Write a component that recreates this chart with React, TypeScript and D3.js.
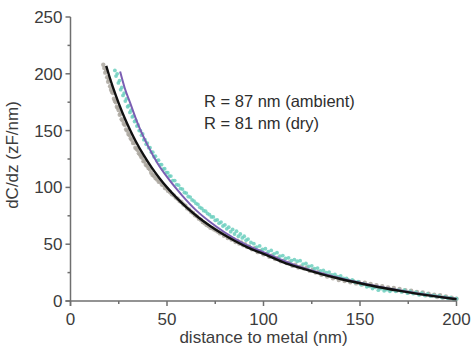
import React from "react";
import * as d3 from "d3";

const W = 475;
const H = 349;

const xTicks = [0, 50, 100, 150, 200];
const xMinor = [25, 75, 125, 175];
const yTicks = [0, 50, 100, 150, 200, 250];
const yMinor = [25, 75, 125, 175, 225];

const xLabel = "distance to metal (nm)";
const yLabel = "dC/dz (zF/nm)";
const notes = ["R = 87 nm (ambient)", "R = 81 nm (dry)"];

// fit curves
const dryFit: [number, number][] = [
  [18.5, 207], [20, 198.5], [22, 188], [25, 174], [28, 161.3], [31, 150.1], [34, 140],
  [38, 128.1], [42, 117.6], [46, 108.3], [50, 100], [55, 90.8], [60, 82.6], [66, 74],
  [72, 66.5], [78, 59.8], [85, 53], [92, 47], [100, 41.5], [110, 34.3], [120, 28.7],
  [130, 23.7], [140, 19.4], [150, 15.6], [160, 12.1], [170, 9.1], [180, 6.3], [190, 3.8],
  [200, 1.5],
];
const ambientFit: [number, number][] = [
  [25.7, 202], [28, 188], [31, 174], [35, 155.5], [40, 137], [45, 121.5], [51, 107],
  [58, 92.6], [65, 80], [72, 70], [80, 60.3], [90, 50.3], [100, 43], [115, 32.5],
  [130, 24.5], [150, 16], [170, 9.4], [185, 5.2], [200, 1.8],
];

// measured data
const dryData: [number, number][] = [
  [17, 208], [17.5, 205], [18, 201], [18.5, 203], [19, 197], [19.5, 193], [20, 195], [20.5, 189],
  [21, 186], [21.5, 184], [22, 183], [22.5, 178], [23, 176], [23.5, 175], [24, 171], [24.5, 170],
  [25, 168], [25.5, 164], [26, 165], [26.5, 160], [27, 159], [27.6, 156], [28.2, 155], [28.8, 151],
  [29.4, 150], [30, 147], [30.6, 146], [31.2, 143], [31.8, 142], [32.4, 139], [33, 139], [33.6, 135],
  [34.2, 134], [34.8, 133], [35.4, 130], [36, 129], [36.6, 127], [37.2, 126], [37.8, 123], [38.4, 123],
  [39, 120], [39.7, 119], [40.4, 117], [41.1, 116], [41.8, 113], [42.5, 111], [43.3, 110], [44.1, 108],
  [44.9, 107], [45.7, 105], [46.5, 105], [47.3, 102.5], [48.1, 102], [48.9, 99.5], [49.7, 99], [50.5, 97],
  [51.5, 96], [52.5, 94], [53.5, 93], [54.5, 91], [55.5, 90], [56.5, 88], [57.5, 87], [58.5, 85],
  [59.5, 84], [60.5, 81.5], [61.5, 80.5], [62.5, 78.5], [63.5, 77.5], [64.5, 75.5], [65.5, 74.5], [66.5, 72.5],
  [67.5, 71.5], [68.5, 69.5], [69.5, 68.5], [70.5, 67], [71.5, 66], [72.5, 64.5], [73.5, 64], [74.5, 63],
  [75.5, 62], [76.5, 61], [77.5, 59.5], [78.5, 60], [79.5, 57.5], [80.5, 58], [81.5, 55.5], [82.5, 56],
  [83.5, 54], [84.5, 54.5], [85.5, 52], [86.5, 53], [87.5, 50.5], [88.5, 51.5], [89.5, 49], [90.5, 50],
  [91.5, 47.5], [92.5, 48], [94, 45.5], [95.5, 46.5], [97, 43], [98.5, 44], [100, 41], [101.5, 41.5],
  [103, 39], [104.5, 40], [106, 37], [107.5, 38], [109, 35], [110.5, 35.5], [112, 33.5], [113.5, 34],
  [115, 31], [116.5, 32], [118, 29.5], [119.5, 30.5], [121, 28.5], [122.5, 29.5], [124, 26.5],
  [125.5, 27.5], [127, 25], [128.5, 25.5], [130, 23], [131.5, 24], [133, 21.5], [134.5, 22.5], [136, 20],
  [137.5, 21], [139, 18.5], [140.5, 19.5], [142, 17.5], [143.5, 18.5], [145, 16.5], [146.5, 17.5],
  [148, 15.5], [149.5, 16.5], [151, 14.5], [152.5, 16], [154, 13.5], [155.5, 15], [157, 12.5], [158.5, 14],
  [160, 11.5], [161.5, 13], [163, 10.5], [164.5, 12], [166, 10], [167.5, 11.5], [169, 9], [170.5, 10.5],
  [172, 8.5], [173.5, 9.5], [175, 7.5], [176.5, 9], [178, 7], [179.5, 8], [181, 6], [182.5, 7.5], [184, 5],
  [185.5, 6.5], [187, 4.5], [188.5, 5.5], [190, 3.5], [191.5, 5], [193, 3], [194.5, 4], [196, 2.5],
  [197.5, 3], [199, 1.5], [200, 2],
];
const ambientData: [number, number][] = [
  [23, 203], [23.6, 198], [24.2, 200], [24.8, 192], [25.4, 194], [26, 186], [26.6, 188], [27.2, 181],
  [27.8, 183], [28.4, 176], [29, 178], [29.6, 171], [30.2, 172], [30.8, 166], [31.4, 168], [32, 162],
  [32.6, 163], [33.2, 158], [33.8, 159], [34.4, 154], [35, 155], [35.6, 150], [36.2, 150], [36.8, 146],
  [37.4, 147], [38, 142], [38.6, 142], [39.2, 138], [39.8, 139], [40.5, 135], [41.2, 135], [41.9, 131],
  [42.6, 131], [43.3, 127], [44, 127.5], [44.8, 123.5], [45.6, 124], [46.4, 120], [47.2, 120], [48, 116],
  [48.8, 116.5], [49.6, 113], [50.4, 113], [51.2, 110], [52, 110], [53, 106], [54, 106], [55, 102.5],
  [56, 102], [57, 99], [58, 98.5], [59, 95.5], [60, 95], [61, 92], [62, 91.5], [63, 89], [64, 88],
  [65, 86], [66, 85], [67, 82.5], [68, 81.5], [69, 79.5], [70, 79], [71, 77], [72, 76], [73, 74],
  [74, 74], [75, 71], [76, 71.5], [77, 68.5], [78, 69.5], [79, 66], [80, 67], [81, 63.5], [82, 65],
  [83, 61], [84, 63], [85, 59], [86, 61.5], [87, 57], [88, 59], [89, 55.5], [90, 57], [91, 53.5],
  [92, 54.5], [93.5, 51.5], [95, 50.5], [96.5, 47.5], [98, 48.5], [99.5, 45.5], [101, 46], [102.5, 43.5],
  [104, 44.5], [105.5, 41.5], [107, 42.5], [108.5, 39.5], [110, 40], [111.5, 37.5], [113, 38], [114.5, 35.5],
  [116, 36.5], [117.5, 35], [119, 35.5], [120.5, 32.5], [122, 33], [123.5, 30.5], [125, 31],
  [126.5, 28.5], [128, 29], [129.5, 26.5], [131, 27], [132.5, 25], [134, 25.5], [135.5, 23], [137, 23.5],
  [138.5, 21.5], [140, 22], [141.5, 20], [143, 20], [144.5, 18], [146, 18.5], [147.5, 16.5], [149, 17],
  [150.5, 14.5], [152, 15], [153.5, 12.5], [155, 13], [156.5, 11], [158, 12], [159.5, 9.5], [161, 11],
  [162.5, 9], [164, 10], [165.5, 8.5], [167, 10], [168.5, 8.5], [170, 9.5], [171.5, 8], [173, 9.5],
  [174.5, 7], [176, 8.5], [177.5, 6.5], [179, 7.5], [180.5, 5.5], [182, 7], [183.5, 5], [185, 6],
  [186.5, 4.5], [188, 5], [189.5, 4], [191, 4.5], [192.5, 3], [194, 3.5], [195.5, 2.5], [197, 3],
  [198.5, 1.5], [200, 2],
];

const FONT = "'Liberation Sans', Arial, sans-serif";
const AXIS = "#6f6f6f";
const TEXT = "#3c3c3c";

export default function App() {
  const x = d3.scaleLinear().domain([0, 200]).range([70.5, 456.5]);
  const y = d3.scaleLinear().domain([0, 250]).range([301, 17]);
  const line = d3
    .line<[number, number]>()
    .x((d) => x(d[0]))
    .y((d) => y(d[1]))
    .curve(d3.curveMonotoneX);

  return (
    <div style={{ position: "absolute", left: 0, top: 0 }}>
      <svg width={W} height={H} style={{ display: "block", background: "#fff" }}>
        {/* data */}
        <g>
          {dryData.map((d, i) => (
            <circle key={"g" + i} cx={x(d[0])} cy={y(d[1])} r={2.2} fill="#aaa69e" opacity={0.85} />
          ))}
        </g>
        <g>
          {ambientData.map((d, i) => (
            <circle key={"c" + i} cx={x(d[0])} cy={y(d[1])} r={1.9} fill="#6ccfbe" opacity={0.85} />
          ))}
        </g>
        <path d={line(ambientFit) || ""} fill="none" stroke="#7b5fb3" strokeWidth={2} />
        <path d={line(dryFit) || ""} fill="none" stroke="#111" strokeWidth={2.4} />

        {/* axes */}
        <g stroke={AXIS} strokeWidth={1.5} fill="none">
          <line x1={x(0)} x2={x(0)} y1={y(250)} y2={y(0) + 5} />
          <line x1={x(0) - 5} x2={x(200)} y1={y(0)} y2={y(0)} />
          {yTicks.map((t) => (
            <line key={"yt" + t} x1={x(0) - 5} x2={x(0)} y1={y(t)} y2={y(t)} />
          ))}
          {yMinor.map((t) => (
            <line key={"ym" + t} x1={x(0) - 3} x2={x(0)} y1={y(t)} y2={y(t)} />
          ))}
          {xTicks.map((t) => (
            <line key={"xt" + t} x1={x(t)} x2={x(t)} y1={y(0)} y2={y(0) + 5} />
          ))}
          {xMinor.map((t) => (
            <line key={"xm" + t} x1={x(t)} x2={x(t)} y1={y(0)} y2={y(0) + 3} />
          ))}
        </g>
        <g fontFamily={FONT} fontSize={17} fill={TEXT}>
          {yTicks.map((t) => (
            <text key={"yl" + t} x={x(0) - 8} y={y(t)} dy="0.35em" textAnchor="end">
              {t}
            </text>
          ))}
          {xTicks.map((t) => (
            <text key={"xl" + t} x={x(t)} y={y(0) + 24} textAnchor="middle">
              {t}
            </text>
          ))}
          <text x={(x(0) + x(200)) / 2} y={343} textAnchor="middle">
            {xLabel}
          </text>
          <text transform={`translate(18, ${155}) rotate(-90)`} textAnchor="middle">
            {yLabel}
          </text>
        </g>
        <g fontFamily={FONT} fontSize={16.5} fill="#2e2e2e">
          {notes.map((n, i) => (
            <text key={n} x={204} y={107 + i * 21.5}>
              {n}
            </text>
          ))}
        </g>
      </svg>
    </div>
  );
}
